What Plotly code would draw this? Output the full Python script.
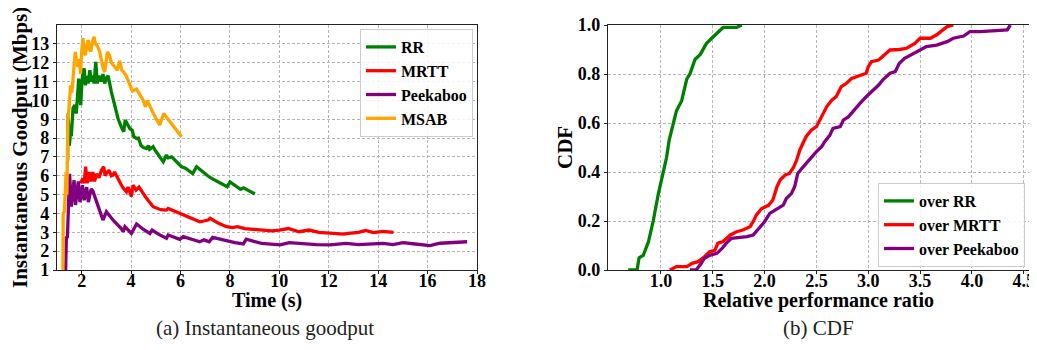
import plotly.graph_objects as go

# ---------------- data: (a) instantaneous goodput ----------------
rr_t = [1.43, 1.45, 1.5, 1.55, 1.58, 1.65, 1.72, 1.78, 1.88, 1.96, 2.0, 2.05, 2.1, 2.15, 2.2, 2.26, 2.33, 2.39,
        2.45, 2.5, 2.57, 2.63, 2.7, 2.8, 2.86, 2.93, 3.0, 3.07, 3.2, 3.35, 3.47, 3.6, 3.7, 3.76, 3.85, 3.95,
        4.05, 4.1, 4.22, 4.3, 4.4, 4.5, 4.62, 4.7, 4.75, 4.89, 5.0, 5.15, 5.3, 5.43, 5.5, 5.64, 5.8, 6.04,
        6.2, 6.49, 6.65, 6.9, 7.1, 7.26, 7.5, 7.89, 8.0, 8.2, 8.43, 8.55, 8.7, 9.01]
rr_v = [6.8, 9.3, 7.6, 8.3, 8.1, 9.6, 9.75, 9.3, 11.16, 9.75, 10.8, 11.5, 11.7, 10.8, 11.3, 10.9, 11.6, 11.0,
        11.3, 10.9, 12.04, 10.9, 11.3, 11.0, 11.4, 10.9, 11.2, 11.3, 10.45, 9.7, 9.04, 8.6, 8.33, 8.95, 8.7, 8.5,
        8.4, 8.1, 7.98, 8.0, 7.6, 7.5, 7.45, 7.6, 7.4, 7.54, 7.3, 7.0, 6.74, 7.1, 6.95, 7.0, 6.8, 6.48,
        6.4, 6.12, 6.48, 6.2, 6.0, 5.86, 5.7, 5.42, 5.68, 5.5, 5.28, 5.36, 5.25, 5.03]

mrtt_t = [1.95, 2.05, 2.1, 2.16, 2.22, 2.3, 2.37, 2.45, 2.52, 2.6, 2.7, 2.8, 2.89, 2.95, 3.0, 3.1, 3.2, 3.27,
          3.33, 3.5, 3.65, 3.81, 3.88, 4.01, 4.08, 4.2, 4.32, 4.6, 4.89, 5.2, 5.43, 5.5, 5.97, 6.4, 6.78,
          6.95, 7.12, 7.2, 7.5, 7.86, 8.1, 8.3, 8.6, 8.95, 9.35, 9.7, 10.0, 10.36, 10.8, 11.2, 11.6, 12.05,
          12.6, 12.8, 13.2, 13.5, 13.8, 14.2, 14.62]
mrtt_v = [5.6, 5.86, 5.6, 6.48, 5.6, 6.2, 5.7, 6.2, 5.7, 6.1, 5.9, 6.3, 6.48, 6.0, 6.12, 6.3, 6.0, 6.04,
          6.2, 5.77, 5.4, 5.15, 5.4, 4.9, 5.5, 5.24, 5.4, 4.85, 4.36, 4.2, 4.18, 4.27, 4.0, 3.75, 3.56,
          3.6, 3.65, 3.74, 3.5, 3.3, 3.25, 3.3, 3.2, 3.16, 3.12, 3.08, 3.12, 3.2, 3.03, 3.12, 3.0, 2.94,
          2.9, 2.94, 3.0, 3.1, 2.98, 3.05, 3.0]

peek_t = [1.35, 1.38, 1.42, 1.46, 1.51, 1.58, 1.69, 1.75, 1.86, 1.93, 2.03, 2.1, 2.2, 2.27, 2.38, 2.45, 2.66,
          2.86, 3.0, 3.3, 3.6, 3.68, 3.75, 3.9, 4.01, 4.22, 4.5, 4.76, 4.85, 5.1, 5.43, 5.5, 5.97, 6.11,
          6.5, 6.78, 6.95, 7.16, 7.3, 7.86, 8.2, 8.54, 8.66, 9.28, 9.7, 10.03, 10.4, 11.0, 11.5, 12.05,
          12.7, 13.2, 13.7, 14.2, 14.6, 15.0, 15.5, 16.1, 16.5, 17.0, 17.6]
peek_v = [1.0, 2.77, 2.7, 4.6, 6.1, 4.36, 5.77, 4.45, 5.7, 4.6, 5.5, 4.7, 5.4, 4.6, 5.3, 5.2, 4.36,
          3.65, 4.09, 3.6, 3.2, 3.03, 3.3, 3.1, 2.94, 3.44, 3.15, 2.94, 3.12, 2.9, 2.68, 2.86, 2.63, 2.77,
          2.6, 2.5, 2.6, 2.5, 2.73, 2.54, 2.45, 2.38, 2.63, 2.41, 2.38, 2.33, 2.45, 2.38, 2.35, 2.33,
          2.41, 2.35, 2.38, 2.41, 2.35, 2.45, 2.38, 2.29, 2.42, 2.45, 2.5]

msab_t = [1.24, 1.25, 1.3, 1.33, 1.37, 1.4, 1.44, 1.48, 1.51, 1.55, 1.6, 1.65, 1.7, 1.74, 1.8, 1.85, 1.9,
          1.95, 2.0, 2.05, 2.1, 2.15, 2.2, 2.26, 2.32, 2.37, 2.43, 2.5, 2.55, 2.63, 2.73, 2.8, 2.87, 2.93,
          3.04, 3.12, 3.2, 3.34, 3.44, 3.54, 3.62, 3.7, 3.8, 3.9, 4.05, 4.22, 4.35, 4.49, 4.58, 4.65, 4.9,
          5.16, 5.32, 5.6, 5.85, 6.04]
msab_v = [1.0, 4.0, 4.1, 5.2, 6.2, 5.0, 8.9, 9.5, 9.9, 10.8, 10.4, 11.07, 11.6, 12.57, 12.0, 11.8, 12.2,
          11.4, 12.6, 13.3, 12.5, 12.4, 12.9, 13.2, 12.7, 12.6, 13.1, 13.37, 13.0, 12.9, 12.57, 12.0, 11.7, 11.5,
          12.57, 12.4, 12.0, 11.77, 11.6, 12.1, 11.6, 11.5, 11.3, 10.98, 10.5, 10.6, 10.3, 10.0, 9.66, 10.0, 9.3,
          8.69, 9.3, 8.8, 8.35, 8.07]

# ---------------- data: (b) CDF of relative performance ratio ----------------
over_rr_x = [0.685, 0.77, 0.79, 0.83, 0.88, 0.926, 0.975, 1.02, 1.055, 1.08, 1.12, 1.15, 1.2, 1.25, 1.28,
             1.33, 1.38, 1.44, 1.5, 1.57, 1.6, 1.73, 1.78]
over_rr_y = [0.0, 0.0, 0.05, 0.06, 0.115, 0.2, 0.31, 0.39, 0.46, 0.53, 0.6, 0.65, 0.69, 0.78, 0.8,
             0.86, 0.88, 0.925, 0.95, 0.98, 0.99, 0.99, 1.0]

over_mrtt_x = [1.087, 1.15, 1.25, 1.3, 1.36, 1.42, 1.47, 1.52, 1.55, 1.6, 1.67, 1.73, 1.79, 1.86, 1.89, 1.92,
               1.97, 2.04, 2.08, 2.12, 2.15, 2.2, 2.24, 2.28, 2.31, 2.34, 2.4, 2.45, 2.5, 2.55, 2.6, 2.65,
               2.69, 2.74, 2.79, 2.84, 2.89, 2.98, 3.0, 3.03, 3.1, 3.14, 3.21, 3.3, 3.37, 3.45, 3.5, 3.6,
               3.66, 3.72, 3.76, 3.82]
over_mrtt_y = [0.0, 0.014, 0.014, 0.027, 0.034, 0.054, 0.075, 0.08, 0.11, 0.116, 0.143, 0.156, 0.163, 0.177,
               0.197, 0.224, 0.25, 0.265, 0.286, 0.34, 0.367, 0.388, 0.394, 0.42, 0.449, 0.49, 0.544, 0.571,
               0.585, 0.626, 0.667, 0.694, 0.707, 0.748, 0.762, 0.782, 0.789, 0.803, 0.83, 0.85, 0.857, 0.871,
               0.898, 0.9, 0.905, 0.925, 0.946, 0.946, 0.96, 0.98, 0.993, 1.0]

over_peek_x = [1.28, 1.34, 1.39, 1.42, 1.47, 1.54, 1.59, 1.63, 1.68, 1.76, 1.83, 1.89, 1.95, 2.0, 2.05, 2.1,
               2.18, 2.21, 2.26, 2.29, 2.32, 2.36, 2.4, 2.45, 2.5, 2.55, 2.58, 2.63, 2.66, 2.73, 2.76, 2.81,
               2.86, 2.92, 2.98, 3.05, 3.1, 3.14, 3.21, 3.26, 3.3, 3.35, 3.43, 3.5, 3.56, 3.66, 3.76, 3.82,
               3.92, 3.98, 4.08, 4.2, 4.24, 4.34, 4.37]
over_peek_y = [0.0, 0.0, 0.027, 0.048, 0.06, 0.068, 0.088, 0.109, 0.129, 0.132, 0.136, 0.143, 0.17, 0.197,
               0.231, 0.245, 0.265, 0.292, 0.313, 0.34, 0.394, 0.415, 0.435, 0.463, 0.483, 0.503, 0.524, 0.551,
               0.578, 0.585, 0.612, 0.626, 0.653, 0.68, 0.707, 0.735, 0.755, 0.776, 0.803, 0.81, 0.844, 0.864,
               0.884, 0.898, 0.912, 0.918, 0.932, 0.946, 0.955, 0.973, 0.973, 0.976, 0.98, 0.98, 1.0]

left_yticks = list(range(1, 14))
left_xticks = list(range(2, 19, 2))
right_xticks = [1.0, 1.5, 2.0, 2.5, 3.0, 3.5, 4.0, 4.5]
right_yticks = [0.0, 0.2, 0.4, 0.6, 0.8, 1.0]

GREEN, RED, PURPLE, ORANGE = "#008000", "#ff0000", "#800080", "#ffa500"
SERIF = "Liberation Serif"
LW = 3.3

fig = go.Figure()
for name, x, y, c in [("RR", rr_t, rr_v, GREEN), ("MRTT", mrtt_t, mrtt_v, RED),
                      ("Peekaboo", peek_t, peek_v, PURPLE), ("MSAB", msab_t, msab_v, ORANGE)]:
    fig.add_trace(go.Scatter(x=x, y=y, mode="lines", name=name, line=dict(color=c, width=LW),
                             xaxis="x", yaxis="y", legend="legend"))
for name, x, y, c in [("over RR", over_rr_x, over_rr_y, GREEN), ("over MRTT", over_mrtt_x, over_mrtt_y, RED),
                      ("over Peekaboo", over_peek_x, over_peek_y, PURPLE)]:
    fig.add_trace(go.Scatter(x=x, y=y, mode="lines", name=name, line=dict(color=c, width=LW),
                             xaxis="x2", yaxis="y2", legend="legend2"))

# the page body has an 8px margin: the figure starts at (8, 8) in the window
OFF = 8
W, H = 1037 - OFF, 350 - OFF
def px(v): return (v - OFF) / W
def py(v): return 1 - (v - OFF) / H

tickfont = dict(family=SERIF, size=18, color="black", weight="bold")
grid = dict(showgrid=True, gridcolor="#b5b5b5", gridwidth=1, griddash="3px,2px",
            showline=True, mirror=True, linecolor="#222", linewidth=1.2,
            ticks="outside", ticklen=3, tickcolor="#222", tickfont=tickfont, zeroline=False,
            automargin=False)
xgrid = dict(grid, ticklabelstandoff=-9)

legfont = dict(family=SERIF, size=16, color="black", weight="bold")
fig.update_layout(
    width=W, height=H, margin=dict(l=0, r=0, t=0, b=0, autoexpand=False),
    paper_bgcolor="white", plot_bgcolor="white",
    xaxis=dict(domain=[px(57), px(477)], range=[1.0, 18.0], tickvals=left_xticks, anchor="y", **xgrid),
    yaxis=dict(domain=[py(270), py(25)], range=[1.0, 14.0], tickvals=left_yticks, anchor="x", **grid),
    xaxis2=dict(domain=[px(608), px(1029)], range=[0.49, 4.55], tickvals=right_xticks,
                ticktext=[f"{v:.1f}" for v in right_xticks], anchor="y2", **xgrid),
    yaxis2=dict(domain=[py(270), py(25)], range=[0.0, 1.0], tickvals=right_yticks,
                ticktext=[f"{v:.1f}" for v in right_yticks], anchor="x2", **grid),
    legend=dict(x=px(473), xanchor="right", y=py(29), yanchor="top", font=legfont,
                bgcolor="rgba(255,255,255,0.85)", bordercolor="#cccccc", borderwidth=1,
                tracegroupgap=0, itemwidth=30),
    legend2=dict(x=px(1025), xanchor="right", y=py(267), yanchor="bottom", font=legfont,
                 bgcolor="rgba(255,255,255,0.85)", bordercolor="#cccccc", borderwidth=1,
                 tracegroupgap=0, itemwidth=30),
    showlegend=True,
)

titlefont = dict(family=SERIF, size=20, color="black", weight="bold")
ytitlefont = dict(family=SERIF, size=21, color="black", weight="bold")
capfont = dict(family=SERIF, size=21, color="#222")
ann = [
    dict(text="Time (s)", x=px(267), y=py(300), font=titlefont),
    dict(text="Relative performance ratio", x=px(818), y=py(300), font=titlefont),
    dict(text="Instantaneous Goodput (Mbps)", x=px(20), y=py(148), textangle=-90, font=ytitlefont),
    dict(text="CDF", x=px(565), y=py(148), textangle=-90, font=ytitlefont),
    dict(text="(a) Instantaneous goodput", x=px(265), y=py(328), font=capfont),
    dict(text="(b) CDF", x=px(818), y=py(328), font=capfont),
]
for a in ann:
    fig.add_annotation(xref="paper", yref="paper", xanchor="center", yanchor="middle",
                       showarrow=False, **a)

fig.write_html("out.html")
